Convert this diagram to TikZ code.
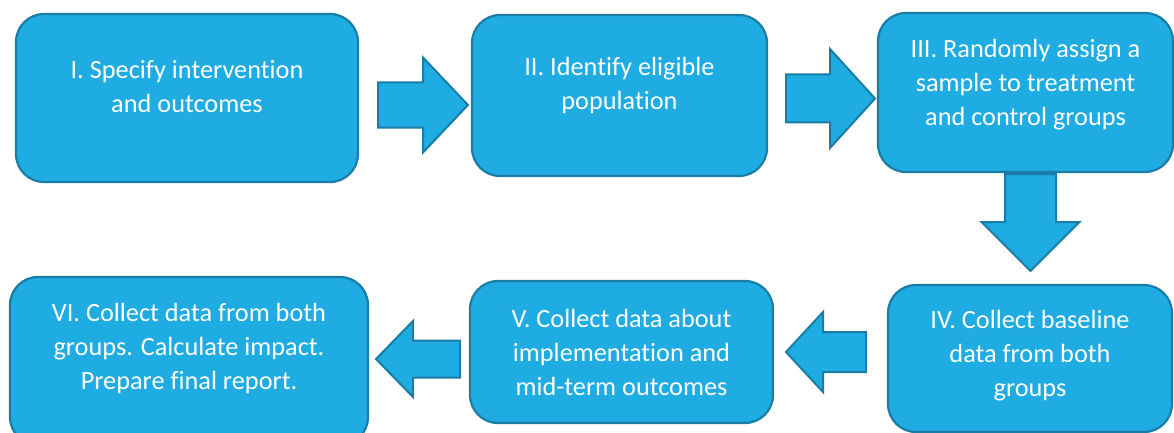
\documentclass[tikz,border=0pt]{standalone}
\usepackage{fontspec}
\setmainfont{Carlito}[Ligatures=NoCommon]
\usepackage{tikz}
\usetikzlibrary{positioning}

\definecolor{boxfill}{HTML}{1FACE2}
\definecolor{boxline}{HTML}{1A7DA6}

\tikzset{
    stepbox/.style={rectangle, rounded corners=28pt, fill=boxfill, draw=boxline,
        line width=2.2pt, inner sep=0pt},
    steptext/.style={align=center, text=white, inner sep=0pt,
        font=\fontsize{26.3}{34}\selectfont},
    arrowshape/.style={fill=boxfill, draw=boxline, line width=2pt, line join=miter},
    % block arrow pointing along +x: length / shaft half / head start / head half
    pics/blockarrow/.style n args={4}{code={
        \draw[arrowshape] (0,-#2) -- (#3,-#2) -- (#3,-#4) -- (#1,0)
            -- (#3,#4) -- (#3,#2) -- (0,#2) -- cycle;
    }}
}

\begin{document}
\begin{tikzpicture}[x=1pt,y=-1pt]
    \useasboundingbox (0,0) rectangle (1174,433);

    % the six steps
    \node[stepbox, minimum width=342pt, minimum height=168pt] (s1) at (187,98)    {};
    \node[stepbox, minimum width=295pt, minimum height=161pt] (s2) at (619.5,95.5) {};
    \node[stepbox, minimum width=295pt, minimum height=159pt] (s3) at (1025.5,92.5) {};
    \node[stepbox, minimum width=284pt, minimum height=147pt] (s4) at (1030,358.5) {};
    \node[stepbox, minimum width=303pt, minimum height=142pt] (s5) at (621.5,352)  {};
    \node[stepbox, minimum width=358pt, minimum height=168pt] (s6) at (189,361)    {};

    \node[steptext] (t1) at (187,87)     {I. Specify intervention\\and outcomes};
    \node[steptext] (t2) at (619.5,85)   {II. Identify eligible\\population};
    \node[steptext] (t3) at (1025.5,85)  {III. Randomly assign a\\sample to treatment\\and control groups};
    \node[steptext] (t4) at (1030,356)   {IV. Collect baseline\\data from both\\groups};
    \node[steptext] (t5) at (621.5,352.5) {V. Collect data about\\implementation and\\mid-term outcomes};
    \node[steptext] (t6) at (189,348)    {VI. Collect data from both\\groups. Calculate impact.\\Prepare final report.};

    % arrows between the steps
    \pic at (378,105)              {blockarrow={90}{22.5}{45}{47.5}};
    \pic at (786,98.5)             {blockarrow={89}{24}{44}{49.5}};
    \pic[rotate=-90] at (1030.5,174) {blockarrow={97}{25.5}{48}{49}};
    \pic[rotate=180] at (866,352)  {blockarrow={80}{20}{43}{40}};
    \pic[rotate=180] at (460,359)  {blockarrow={84}{18.5}{47}{38}};
\end{tikzpicture}
\end{document}
